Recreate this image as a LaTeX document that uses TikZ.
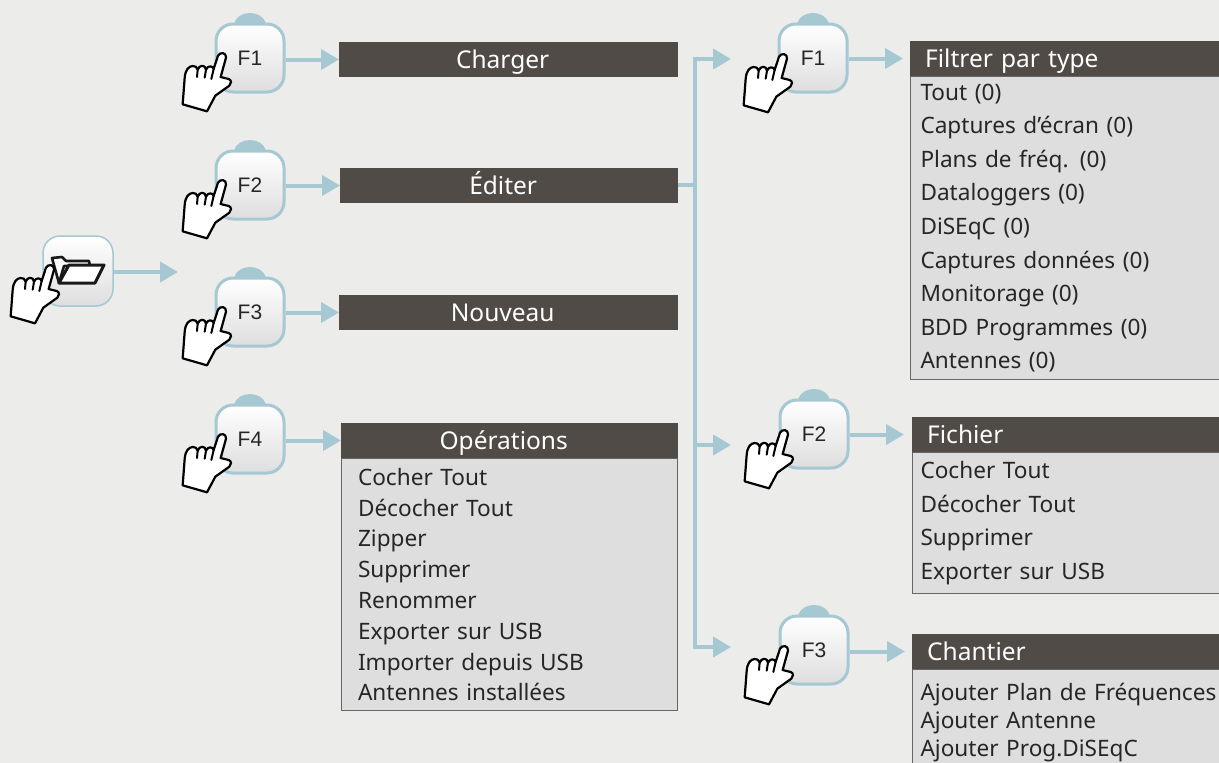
\documentclass[tikz,border=0pt]{standalone}
\usepackage{fontspec}
\setmainfont{Noto Sans}
\newfontfamily\keyfont{Liberation Sans}
\usetikzlibrary{positioning,arrows.meta}
\definecolor{pagebg}{HTML}{ECECEA}
\definecolor{linkblue}{HTML}{A6C8D2}
\definecolor{bardark}{HTML}{504B47}
\definecolor{listgrey}{HTML}{DEDEDE}
\tikzset{
  fkey/.style={rectangle, rounded corners=17pt, draw=linkblue, line width=3pt, minimum size=68pt, inner sep=0pt,
               top color=white, bottom color=black!13, font=\keyfont\fontsize{21}{24}\selectfont, text=black!85},
  homekey/.style={fkey, line width=1.5pt, minimum size=70pt},
  link/.style={line width=4pt, draw=linkblue, -{Triangle[length=18pt,width=20pt,fill=linkblue]}},
  trunk/.style={line width=4pt, draw=linkblue},
  leftbar/.style={fill=bardark, text=white, anchor=west, minimum height=35pt, inner sep=0pt, align=center,
                  text height=20pt, text depth=3pt,
                  font=\fontsize{24.5}{29}\selectfont, text width=#1, execute at end node={\hspace*{12pt}}},
  rightbar/.style={fill=bardark, text=white, anchor=west, minimum height=35pt, inner xsep=15pt, inner ysep=0pt, align=left,
                   text height=20pt, text depth=3pt,
                   font=\fontsize{24.5}{29}\selectfont, text width=300pt},
  listbox/.style={fill=listgrey, draw=black!60, line width=1pt, anchor=north west, align=left,
                  font=\fontsize{22.6}{#1}\selectfont, text=black!85},
  pics/hand/.style={code={
    \draw[fill=white, draw=black, line width=2.2pt, line join=round, line cap=round, scale=0.3333]
      (-118,154) -- (-112,75) .. controls (-110,50) and (-100,40) .. (-88,39)
      .. controls (-80,38) and (-76,42) .. (-73,50)
      .. controls (-68,35) and (-50,34) .. (-48,50)
      .. controls (-42,36) and (-28,38) .. (-25,48)
      -- (-12,8) .. controls (-6,-4) and (14,-2) .. (12,14)
      -- (-4,72) -- (20,78) .. controls (30,82) and (28,92) .. (22,98)
      -- (-20,128) -- (-45,175) -- cycle;
    \draw[draw=black, line width=2pt, line cap=round, scale=0.3333]
      (-73,50) -- (-75,72) (-48,50) -- (-52,74) (-25,48) -- (-32,78);
  }},
  pics/bump/.style={code={
    \fill[linkblue] (-16,1) .. controls (-12,-13) and (12,-13) .. (16,1) -- cycle;
  }},
  pics/folder/.style={code={
    \draw[fill=white, draw=black!90, line width=2.6pt, line join=round]
      (0,0) -- (10,-1) -- (14,3) -- (37,3) -- (38,8) -- (12,8) -- (7,25) -- cycle;
    \draw[fill=white, draw=black!90, line width=3pt, line join=round]
      (7,25) -- (17,7) -- (52,7) -- (43,25) -- cycle;
  }},
}
\begin{document}
\begin{tikzpicture}[x=1pt, y=-1pt]
\useasboundingbox (0,0) rectangle (1219,763);
\fill[pagebg] (0,0) rectangle (1219,763);

%Keys
\node[homekey] (home) at (78,271) {};
\node[fkey] (lfone) at (250,58) {F1};
\node[fkey] (lftwo) at (250,185) {F2};
\node[fkey] (lfthree) at (250,312) {F3};
\node[fkey] (lffour) at (250,439) {F4};
\node[fkey] (rfone) at (813,58) {F1};
\node[fkey] (rftwo) at (814,434) {F2};
\node[fkey] (rfthree) at (814,650) {F3};

%Bars
\node[leftbar=339pt] (charger) at (339,59.5) {Charger};
\node[leftbar=338pt] (editer) at (340,185.5) {Éditer};
\node[leftbar=339pt] (nouveau) at (339,312.5) {Nouveau};
\node[leftbar=337pt] (operations) at (341,440.5) {Opérations};
\node[rightbar] (filtrer) at (910,58.5) {Filtrer par type};
\node[rightbar] (fichier) at (912,434.5) {Fichier};
\node[rightbar] (chantier) at (912,651.5) {Chantier};

%Lists
\node[listbox=30.8pt, inner xsep=16.5pt, inner ysep=9.5pt, text width=303pt, below=0pt of operations.south west, anchor=north west] (oplist) {Cocher Tout\\Décocher Tout\\Zipper\\Supprimer\\Renommer\\Exporter sur USB\\Importer depuis USB\\Antennes installées};
\node[listbox=33.6pt, inner xsep=10pt, inner ysep=7pt, text width=300pt, below=0pt of filtrer.south west, anchor=north west] (filtrerlist) {Tout (0)\\Captures d’écran (0)\\Plans de fréq. (0)\\Dataloggers (0)\\DiSEqC (0)\\Captures données (0)\\Monitorage (0)\\BDD Programmes (0)\\Antennes (0)};
\node[listbox=33.5pt, inner xsep=8pt, inner ysep=9pt, text width=300pt, below=0pt of fichier.south west, anchor=north west] (fichierlist) {Cocher Tout\\Décocher Tout\\Supprimer\\Exporter sur USB};
\node[listbox=28pt, inner xsep=8pt, inner ysep=13.5pt, text width=300pt, below=0pt of chantier.south west, anchor=north west] (chantierlist) {Ajouter Plan de Fréquences\\Ajouter Antenne\\Ajouter Prog.DiSEqC};

%Bumps
\pic at (lfone.north) {bump};
\pic at (lftwo.north) {bump};
\pic at (lfthree.north) {bump};
\pic at (lffour.north) {bump};
\pic at (rfone.north) {bump};
\pic at (rftwo.north) {bump};
\pic at (rfthree.north) {bump};

%Folder
\pic at (52,258) {folder};

%Coordinates
\coordinate (homeend) at (178,272);
\coordinate (trunktop) at (695,59);
\coordinate (trunkmid) at (695,185);
\coordinate (trunkfork) at (695,445);
\coordinate (trunkbot) at (695,647);
\coordinate (rfoneend) at (731,59);
\coordinate (rftwoend) at (731,445);
\coordinate (rfthreeend) at (731,647);

%Lines
\draw[link] (home.east |- homeend) -- (homeend);
\draw[link] (lfone.east |- charger.west) -- (charger.west);
\draw[link] (lftwo.east |- editer.west) -- (editer.west);
\draw[link] (lfthree.east |- nouveau.west) -- (nouveau.west);
\draw[link] (lffour.east |- operations.west) -- (operations.west);
\draw[trunk] (editer.east |- trunkmid) -- (trunkmid);
\draw[trunk] (trunkbot) -- (trunktop);
\draw[link] (trunktop) ++(-2,0) -- (rfoneend);
\draw[link] (trunkfork) -- (rftwoend);
\draw[link] (trunkbot) ++(-2,0) -- (rfthreeend);
\draw[link, shorten >=7pt] (rfone.east |- filtrer.west) -- (filtrer.west);
\draw[link, shorten >=8pt] (rftwo.east |- fichier.west) -- (fichier.west);
\draw[link, shorten >=7pt] (rfthree.east |- chantier.west) -- (chantier.west);

%Hands
\pic at (50,265) {hand};
\pic at (222,53) {hand};
\pic at (222,180) {hand};
\pic at (222,307) {hand};
\pic at (222,434) {hand};
\pic at (783,54) {hand};
\pic at (784,430) {hand};
\pic at (784,646) {hand};
\end{tikzpicture}
\end{document}
